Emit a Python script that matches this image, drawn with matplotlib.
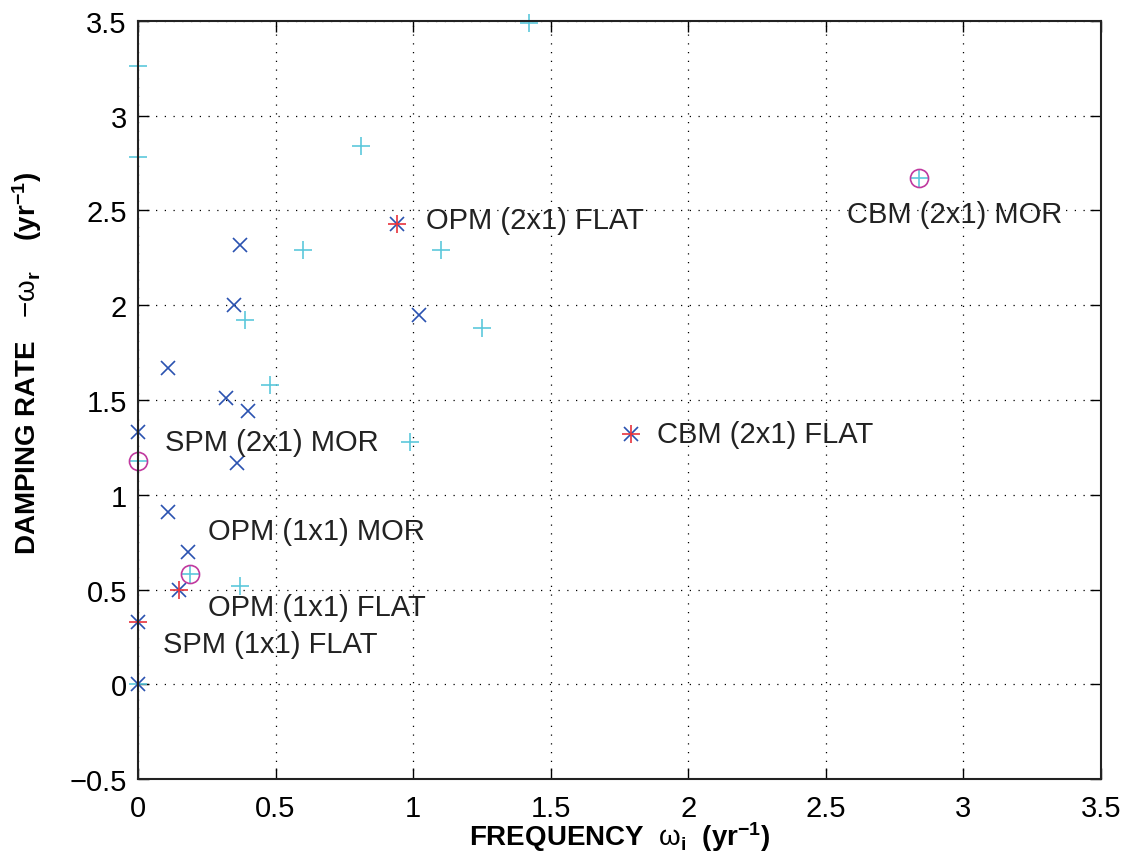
import matplotlib
matplotlib.use('Agg')
import matplotlib.pyplot as plt

plt.rcParams['font.family'] = ['Liberation Sans', 'DejaVu Sans']
plt.rcParams['mathtext.fontset'] = 'custom'
plt.rcParams['mathtext.rm'] = 'Liberation Sans'
plt.rcParams['mathtext.it'] = 'Liberation Sans'
plt.rcParams['mathtext.bf'] = 'Liberation Sans:bold'

# cyan '+' points
cyan_x = [0, 0, 1.42, 0.81, 0.60, 1.10, 0.39, 1.25, 0.48, 0.99, 0.37, 0, 0.19, 2.84, 0]
cyan_y = [3.26, 2.78, 3.49, 2.84, 2.29, 2.29, 1.92, 1.88, 1.58, 1.28, 0.52, 1.18, 0.58, 2.67, 0]

# blue 'x' points
blue_x = [0.37, 0.35, 1.02, 0.11, 0.32, 0.40, 0, 0.36, 0.11, 0.18, 0.94, 1.79, 0.15, 0, 0]
blue_y = [2.32, 2.00, 1.95, 1.67, 1.51, 1.44, 1.33, 1.17, 0.91, 0.70, 2.43, 1.32, 0.50, 0.33, 0]

# red '+' (FLAT modes)
red_x = [0.94, 1.79, 0.15, 0]
red_y = [2.43, 1.32, 0.50, 0.33]

# magenta circles (MOR modes)
mag_x = [0, 0.19, 2.84]
mag_y = [1.18, 0.58, 2.67]

labels = ['OPM (2x1) FLAT', 'CBM (2x1) MOR', 'SPM (2x1) MOR', 'CBM (2x1) FLAT',
          'OPM (1x1) MOR', 'OPM (1x1) FLAT', 'SPM (1x1) FLAT']
label_x = [1.045, 2.575, 0.098, 1.887, 0.255, 0.255, 0.09]
label_y = [2.45, 2.48, 1.28, 1.32, 0.81, 0.41, 0.215]

fig = plt.figure(figsize=(11.31, 8.62), dpi=100)
ax = fig.add_axes([0.122, 0.0951, 0.8515, 0.8794])

ax.plot(cyan_x, cyan_y, '+', color='#5CC8DC', markersize=13, markeredgewidth=1.2, clip_on=False)
ax.plot(blue_x, blue_y, 'x', color='#2A52B0', markersize=10, markeredgewidth=1.2, clip_on=False)
ax.plot(red_x, red_y, '+', color='#E8323C', markersize=13, markeredgewidth=1.2, clip_on=False)
ax.plot(mag_x, mag_y, 'o', color='#C0399F', markersize=13, markerfacecolor='none',
        markeredgewidth=1.2, clip_on=False)

for t, x, y in zip(labels, label_x, label_y):
    ax.text(x, y, t, fontsize=21, va='center', ha='left', color='#222222')

ax.set_xlim(0, 3.5)
ax.set_ylim(-0.5, 3.5)
ax.set_xticks([0, 0.5, 1, 1.5, 2, 2.5, 3, 3.5])
ax.set_xticklabels(['0', '0.5', '1', '1.5', '2', '2.5', '3', '3.5'])
ax.set_yticks([-0.5, 0, 0.5, 1, 1.5, 2, 2.5, 3, 3.5])
ax.set_yticklabels(['\u22120.5', '0', '0.5', '1', '1.5', '2', '2.5', '3', '3.5'])
ax.tick_params(direction='in', length=8, width=1, labelsize=21, top=True, right=True)
ax.tick_params(axis='x', pad=11)
ax.tick_params(axis='y', pad=8)
ax.grid(True, linestyle=(0, (1, 6)), color='black', linewidth=0.9)
for s in ax.spines.values():
    s.set_linewidth(1.5)
    s.set_color('#222222')

ax.set_xlabel(r'FREQUENCY  $\omega_{\mathbf{i}}$  (yr$^{\mathbf{-1}}$)', fontsize=20,
              fontweight='bold', labelpad=-2)
ax.set_ylabel(r'DAMPING RATE   $-\omega_{\mathbf{r}}$    (yr$^{\mathbf{-1}}$)', fontsize=20,
              fontweight='bold')
ax.yaxis.set_label_coords(-0.098, 0.55)

fig.savefig('out.png', dpi=100)
